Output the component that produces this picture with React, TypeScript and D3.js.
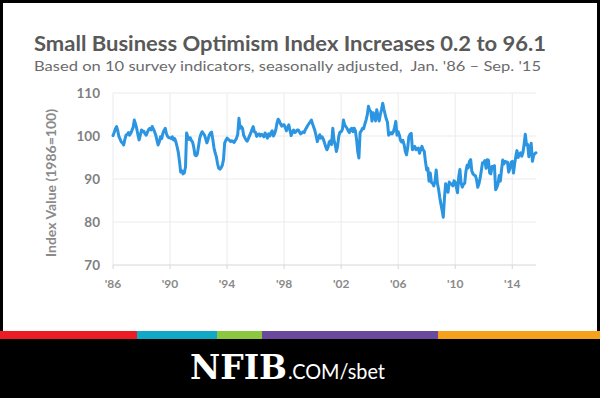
import * as d3 from "d3";

// NFIB Small Business Optimism Index, monthly, Jan 1986 - Sep 2015 (1986=100)
const values1986to1989 = [
  100.1, 100.8, 101.6, 102.2, 101.3, 99.9, 99.3, 98.6, 98.4, 97.9, 99.2, 100.2,
  100.4, 100.8, 100.2, 100.6, 101.3, 102.0, 103.7, 102.8, 101.7, 100.3, 99.1, 100.2,
  101.4, 101.0, 101.1, 100.5, 100.2, 100.9, 101.5, 101.8, 101.4, 102.2, 101.6, 101.0,
  100.2, 99.0, 97.9, 98.6, 99.8, 99.4, 100.6, 101.3, 101.8, 100.5, 99.9, 99.6,
];
const values1990s = [
  99.6, 99.4, 99.8, 99.1, 99.4, 98.6, 97.5, 96.2, 94.0, 91.6, 91.9, 91.2,
  91.4, 92.8, 100.7, 99.8, 99.2, 99.6, 99.0, 98.6, 97.4, 95.6, 95.4, 95.8,
  97.6, 99.5, 100.4, 101.0, 100.6, 100.2, 99.4, 98.4, 99.2, 100.2, 100.7, 100.9,
  99.2, 97.2, 96.1, 95.2, 93.6, 92.5, 92.3, 92.6, 93.2, 94.5, 98.4, 99.0,
  99.5, 99.2, 99.0, 98.7, 98.9, 98.7, 98.5, 99.0, 99.5, 100.4, 104.1, 101.8,
  102.2, 101.8, 100.2, 99.6, 99.1, 98.8, 99.4, 100.1, 100.7, 101.5, 102.2, 101.0,
  100.8, 99.9, 100.3, 100.5, 100.0, 100.4, 100.2, 99.8, 100.7, 100.2, 99.5, 100.5,
  100.0, 100.8, 101.2, 100.0, 100.5, 101.4, 102.9, 103.9, 103.5, 102.8, 102.3, 102.6,
  102.6, 101.9, 101.2, 102.0, 102.6, 101.3, 100.1, 100.9, 101.4, 100.8, 101.0, 101.4,
  101.4, 100.9, 100.5, 100.7, 101.0, 100.8, 101.5, 102.0, 102.5, 102.9, 103.3, 103.7,
];
const values2000s = [
  102.8, 102.0, 101.2, 100.0, 98.7, 99.6, 100.3, 99.5, 99.8, 99.3, 98.4, 97.5,
  96.8, 97.4, 98.6, 98.9, 98.0, 101.8, 99.1, 98.0, 96.4, 97.6, 99.9, 100.9,
  101.0, 101.5, 103.7, 102.6, 102.2, 101.8, 101.2, 100.8, 101.6, 101.8, 101.0, 101.8,
  101.2, 99.1, 96.4, 94.9, 100.8, 101.2, 101.8, 101.7, 102.8, 103.7, 104.9, 106.9,
  106.0, 105.7, 103.5, 105.4, 104.5, 103.5, 106.1, 104.8, 103.5, 105.0, 106.2, 107.6,
  106.2, 105.0, 104.0, 103.2, 100.2, 100.5, 100.8, 100.5, 101.0, 102.0, 103.4, 100.2,
  101.0, 100.2, 99.0, 98.6, 99.0, 98.0, 96.5, 95.6, 97.2, 99.8, 100.4, 100.6,
  96.8, 97.4, 97.6, 96.8, 97.0, 97.2, 96.0, 96.8, 97.6, 96.8, 96.4, 94.0,
  92.1, 92.5, 89.5, 91.4, 89.2, 89.0, 88.4, 89.5, 92.1, 89.0, 87.6, 85.7,
  84.1, 82.6, 81.1, 85.7, 88.9, 87.9, 86.9, 89.3, 88.9, 88.8, 88.4, 89.6,
];
const values2010s = [
  89.3, 88.0, 86.8, 90.6, 92.2, 89.0, 88.1, 88.8, 89.0, 91.7, 93.2, 92.6,
  94.1, 94.5, 91.9, 91.2, 90.9, 90.8, 89.9, 88.1, 88.9, 90.2, 92.0, 93.8,
  93.8, 94.3, 92.5, 94.5, 94.4, 91.4, 91.2, 92.9, 92.8, 93.1, 87.5, 88.0,
  88.9, 90.8, 89.5, 92.1, 94.4, 93.5, 94.1, 94.0, 93.9, 91.6, 92.5, 93.9,
  94.1, 91.4, 93.4, 95.2, 96.6, 95.0, 95.7, 96.1, 95.3, 96.1, 98.1, 100.4,
  97.9, 98.0, 95.2, 96.9, 98.3, 94.1, 95.4, 95.9, 96.1,
];

const tickYears = [1986, 1990, 1994, 1998, 2002, 2006, 2010, 2014];
const yTicks = [70, 80, 90, 100, 110];
const stripeColors = ["#ed1c24", "#12a9c7", "#8dc63f", "#6a4a9c", "#f6a11c"];
const stripeStops = [0, 137, 217, 262, 438, 600];

const W = 600;
const H = 398;
const left = 113;
const right = 536;
const top = 93;
const bottom = 265;

export default function App() {
  const monthly = [...values1986to1989, ...values1990s, ...values2000s, ...values2010s];
  const data = monthly.map((v, i) => ({ date: new Date(1986, i, 1), value: v }));

  const x = d3
    .scaleTime()
    .domain([data[0].date, data[data.length - 1].date])
    .range([left, right]);
  const y = d3.scaleLinear().domain([70, 110]).range([bottom, top]);

  const line = d3
    .line<{ date: Date; value: number }>()
    .x((d) => x(d.date))
    .y((d) => y(d.value));

  const labelFont = "Lato, 'Open Sans', sans-serif";

  return (
    <svg
      width={W}
      height={H}
      style={{ position: "fixed", left: 0, top: 0, display: "block" }}
    >
      <rect x={0} y={0} width={W} height={H} fill="#000" />
      <rect x={3} y={3} width={594} height={328} fill="#fff" />

      <text
        x={34}
        y={51}
        fontFamily={labelFont}
        fontWeight="bold"
        fontSize={21}
        fill="#595959"
        textLength={512}
        lengthAdjust="spacingAndGlyphs"
      >
        Small Business Optimism Index Increases 0.2 to 96.1
      </text>
      <text
        x={34}
        y={71}
        fontFamily={labelFont}
        fontSize={14}
        fill="#6b6b6b"
        textLength={507}
        lengthAdjust="spacingAndGlyphs"
      >
        {"Based on 10 survey indicators, seasonally adjusted,\u00a0 Jan. '86 – Sep. '15"}
      </text>

      {/* grid */}
      {yTicks.slice(1).map((t) => (
        <line key={"gy" + t} x1={left} x2={right} y1={y(t)} y2={y(t)} stroke="#ebebeb" strokeWidth={1} />
      ))}
      {tickYears.map((yr) => (
        <line
          key={"gx" + yr}
          x1={x(new Date(yr, 0, 1))}
          x2={x(new Date(yr, 0, 1))}
          y1={top}
          y2={bottom}
          stroke="#ebebeb"
          strokeWidth={1}
        />
      ))}

      {/* x axis */}
      <line x1={left} x2={right} y1={bottom} y2={bottom} stroke="#d6d6d6" strokeWidth={1} />
      {tickYears.map((yr) => {
        const px = x(new Date(yr, 0, 1));
        return (
          <g key={"xt" + yr}>
            <line x1={px} x2={px} y1={bottom} y2={bottom + 4} stroke="#d6d6d6" strokeWidth={1} />
            <text
              x={px}
              y={288}
              textAnchor="middle"
              fontFamily={labelFont}
              fontWeight="bold"
              fontSize={12}
              fill="#8a8a8a"
            >
              {"'" + String(yr).slice(2)}
            </text>
          </g>
        );
      })}

      {/* y axis labels */}
      {yTicks.map((t) => (
        <text
          key={"yt" + t}
          x={100}
          y={y(t)}
          dy="0.36em"
          textAnchor="end"
          fontFamily={labelFont}
          fontWeight="bold"
          fontSize={13.5}
          fill="#7f7f7f"
        >
          {t}
        </text>
      ))}
      <text
        transform={`translate(56, ${(top + bottom) / 2 + 4}) rotate(-90)`}
        textAnchor="middle"
        fontFamily={labelFont}
        fontWeight="bold"
        fontSize={12.5}
        fill="#8a8a8a"
        textLength={148}
        lengthAdjust="spacingAndGlyphs"
      >
        Index Value (1986=100)
      </text>

      <path
        d={line(data) ?? ""}
        fill="none"
        stroke="#2b95e2"
        strokeWidth={3}
        strokeLinejoin="round"
        strokeLinecap="round"
      />

      {/* footer */}
      {stripeColors.map((c, i) => (
        <rect
          key={c}
          x={stripeStops[i]}
          y={331}
          width={stripeStops[i + 1] - stripeStops[i]}
          height={8}
          fill={c}
        />
      ))}
      <text
        x={190}
        y={379}
        fontFamily="'DejaVu Serif', serif"
        fontWeight="bold"
        fontSize={34}
        fill="#fff"
        textLength={97}
        lengthAdjust="spacingAndGlyphs"
      >
        NFIB
      </text>
      <text
        x={288}
        y={379}
        fontFamily={labelFont}
        fontSize={22}
        fill="#fff"
        textLength={97}
        lengthAdjust="spacingAndGlyphs"
      >
        .COM/sbet
      </text>
    </svg>
  );
}
